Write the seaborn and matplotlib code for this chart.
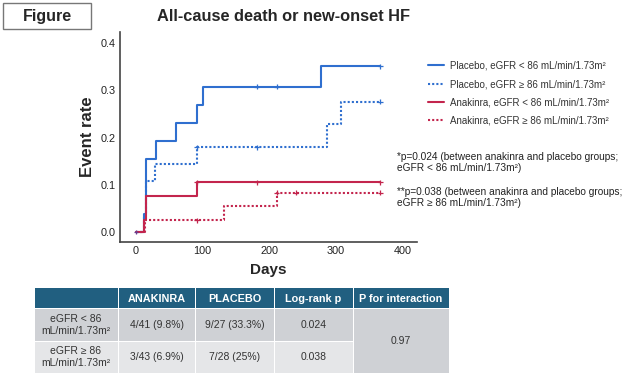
import numpy as np
import pandas as pd
import matplotlib
matplotlib.use("Agg")
import matplotlib.pyplot as plt
from matplotlib.patches import Rectangle
from matplotlib.lines import Line2D
import seaborn as sns

# Kaplan-Meier style step curves (cumulative event rate)
groups = ["Placebo, eGFR < 86 mL/min/1.73m²",
          "Placebo, eGFR ≥ 86 mL/min/1.73m²",
          "Anakinra, eGFR < 86 mL/min/1.73m²",
          "Anakinra, eGFR ≥ 86 mL/min/1.73m²"]

placebo_lo_days = [0, 13, 15, 30, 61, 91, 100, 277, 366]
placebo_lo_rate = [0.0, 0.038, 0.154, 0.192, 0.231, 0.269, 0.308, 0.351, 0.351]
placebo_lo_censor = [181, 211, 366]

placebo_hi_days = [0, 13, 16, 29, 91, 287, 308, 366]
placebo_hi_rate = [0.0, 0.036, 0.107, 0.143, 0.179, 0.228, 0.276, 0.276]
placebo_hi_censor = [91, 181, 366]

anakinra_lo_days = [0, 12, 15, 91, 366]
anakinra_lo_rate = [0.0, 0.024, 0.075, 0.105, 0.105]
anakinra_lo_censor = [91, 181, 366]

anakinra_hi_days = [0, 14, 132, 211, 366]
anakinra_hi_rate = [0.0, 0.024, 0.054, 0.083, 0.083]
anakinra_hi_censor = [91, 211, 240, 366]

# table contents
table_header = ["", "ANAKINRA", "PLACEBO", "Log-rank p", "P for interaction"]
row_labels = ["eGFR < 86\nmL/min/1.73m²", "eGFR ≥ 86\nmL/min/1.73m²"]
anakinra_events = ["4/41 (9.8%)", "3/43 (6.9%)"]
placebo_events = ["9/27 (33.3%)", "7/28 (25%)"]
logrank_p = ["0.024", "0.038"]
p_interaction = "0.97"

BLUE = "#2f6fcf"
RED = "#c3254d"
palette = dict(zip(groups, [BLUE, BLUE, RED, RED]))
dashes = dict(zip(groups, ["", (1, 1), "", (1, 1)]))

curves = [(placebo_lo_days, placebo_lo_rate, placebo_lo_censor),
          (placebo_hi_days, placebo_hi_rate, placebo_hi_censor),
          (anakinra_lo_days, anakinra_lo_rate, anakinra_lo_censor),
          (anakinra_hi_days, anakinra_hi_rate, anakinra_hi_censor)]

lines, marks = [], []
for g, (d, r, c) in zip(groups, curves):
    lines.append(pd.DataFrame({"day": d, "rate": r, "group": g}))
    idx = np.searchsorted(d, c, side="right") - 1
    marks.append(pd.DataFrame({"day": c, "rate": np.array(r)[idx], "group": g}))
df_lines = pd.concat(lines, ignore_index=True)
df_marks = pd.concat(marks, ignore_index=True)

sns.set_style("white")
plt.rcParams["font.family"] = ["Liberation Sans", "DejaVu Sans"]

W, H = 624, 378
fig = plt.figure(figsize=(W / 100, H / 100), dpi=100)

# overlay in pixel coordinates for figure-level decorations and the table
ov = fig.add_axes([0, 0, 1, 1])
ov.set_xlim(0, W)
ov.set_ylim(H, 0)
ov.axis("off")

ax = fig.add_axes([120 / W, 1 - 241.7 / H, (417 - 120) / W, (241.7 - 32) / H])
sns.lineplot(data=df_lines, x="day", y="rate", hue="group", style="group",
             palette=palette, dashes=dashes, estimator=None, sort=False,
             drawstyle="steps-post", linewidth=1.5, legend=False, ax=ax)
sns.scatterplot(data=df_marks, x="day", y="rate", hue="group", palette=palette,
                marker="+", s=12, linewidth=0.9, legend=False, ax=ax)
# censor mark at time zero
ax.plot([0], [0], marker="+", color="#6a3c8c", ms=3.5, mew=0.9)

ax.set_xlim(-23.5, 421)
ax.set_ylim(-0.021, 0.424)
ax.set_xticks([0, 100, 200, 300, 400])
ax.set_yticks([0, 0.1, 0.2, 0.3, 0.4])
ax.set_yticklabels([f"{v:.1f}" for v in ax.get_yticks()])
ax.tick_params(length=0, labelsize=7.8, colors="#222222", pad=3)
ax.set_xlabel("Days", fontsize=11, fontweight="bold", labelpad=5)
ax.set_ylabel("Event rate", fontsize=12, fontweight="bold", labelpad=4)
sns.despine(ax=ax)
for s in ["left", "bottom"]:
    ax.spines[s].set_color("#444444")
    ax.spines[s].set_linewidth(1.2)
ax.patch.set_alpha(0)

# legend
handles = [Line2D([], [], color=palette[g], lw=1.5,
                  linestyle="-" if dashes[g] == "" else (0, (1, 1)))
           for g in groups]
fig.legend(handles, groups, loc="upper left", bbox_to_anchor=(419 / W, 1 - 52 / H),
           frameon=False, fontsize=7, handlelength=1.7, handletextpad=0.6,
           labelspacing=0.85, labelcolor="#333333")

# annotations
ann = [("*p=0.024 (between anakinra and placebo groups;", 157),
       ("eGFR < 86 mL/min/1.73m²)", 168),
       ("**p=0.038 (between anakinra and placebo groups;", 192),
       ("eGFR ≥ 86 mL/min/1.73m²)", 203)]
for txt, y in ann:
    ov.text(397, y, txt, fontsize=7.3, color="#222222", va="center", ha="left")

# "Figure" box and title
ov.add_patch(Rectangle((3, 3), 88, 26, facecolor="white", edgecolor="#777777", lw=1))
ov.text(47, 16.5, "Figure", fontsize=11.5, fontweight="bold", ha="center", va="center")
ov.text(157, 16.5, "All-cause death or new-onset HF", fontsize=11.8,
        fontweight="bold", ha="left", va="center")

# table
col_x = [34, 118, 195, 274, 353, 449]
row_y = [288, 308.5, 341, 373]
HEAD = "#215f80"
ROW1 = "#cfd1d5"
ROW2 = "#e5e6e8"
gap = 1.0
for j in range(5):
    x0, x1 = col_x[j], col_x[j + 1]
    ov.add_patch(Rectangle((x0 + gap / 2, row_y[0]), x1 - x0 - gap, row_y[1] - row_y[0] - gap / 2,
                           facecolor=HEAD, edgecolor="none"))
    ov.text((x0 + x1) / 2, (row_y[0] + row_y[1]) / 2 + 0.5, table_header[j], color="white",
            fontsize=7.8, fontweight="bold", ha="center", va="center")

body_cols = [row_labels, anakinra_events, placebo_events, logrank_p]
for i in range(2):
    y0, y1 = row_y[i + 1], row_y[i + 2]
    fc = ROW1 if i == 0 else ROW2
    for j in range(4):
        x0, x1 = col_x[j], col_x[j + 1]
        ov.add_patch(Rectangle((x0 + gap / 2, y0 + gap / 2), x1 - x0 - gap, y1 - y0 - gap,
                               facecolor=fc, edgecolor="none"))
        ov.text((x0 + x1) / 2, (y0 + y1) / 2, body_cols[j][i], color="#333333",
                fontsize=7.5, ha="center", va="center", linespacing=1.3)
# merged interaction cell
ov.add_patch(Rectangle((col_x[4] + gap / 2, row_y[1] + gap / 2), col_x[5] - col_x[4] - gap,
                       row_y[3] - row_y[1] - gap, facecolor=ROW1, edgecolor="none"))
ov.text((col_x[4] + col_x[5]) / 2, 341, p_interaction, color="#333333",
        fontsize=7.5, ha="center", va="center")

fig.savefig("out.png", dpi=100)
